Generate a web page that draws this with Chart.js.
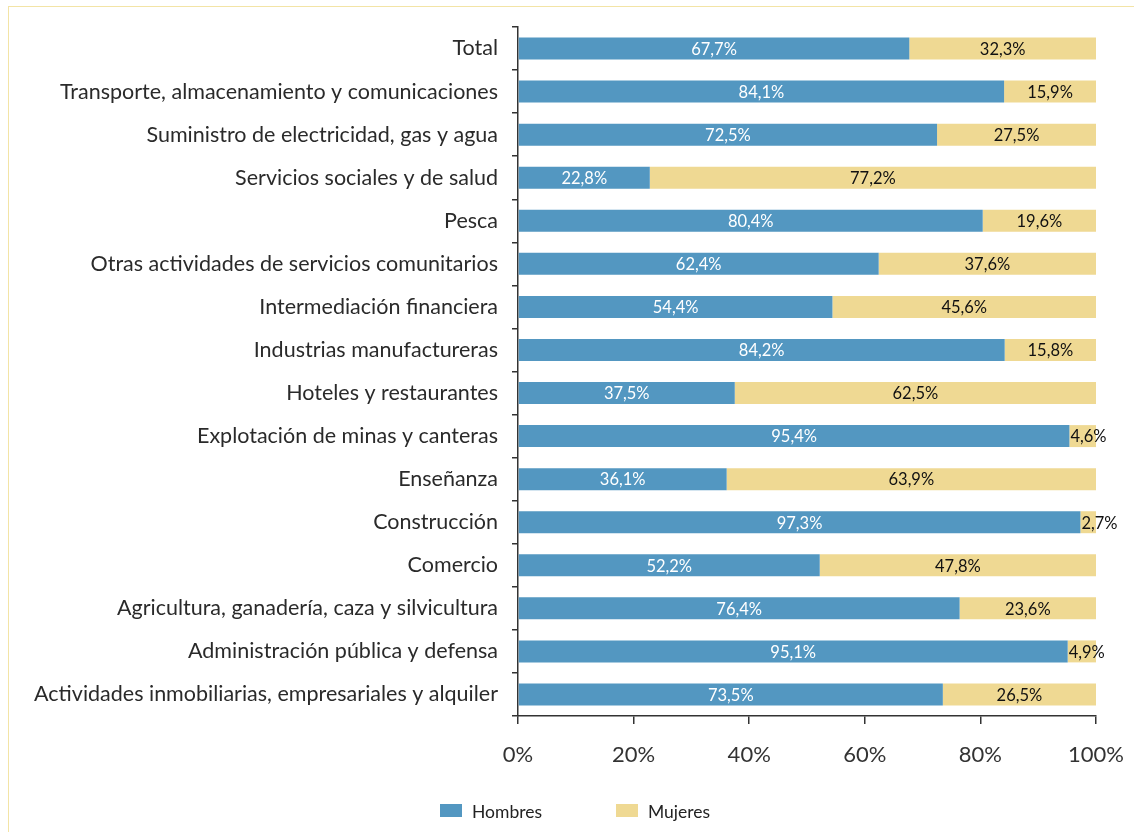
<!DOCTYPE html>
<html>
<head>
<meta charset="utf-8">
<script src="https://cdn.jsdelivr.net/npm/chart.js@4"></script>
<style>
  body { margin: 0; background: #fff; }
  #marco { position: absolute; left: 8px; top: 6px; width: 1200px; height: 900px; border-left: 1.5px solid #f3e4a6; border-top: 1.5px solid #f3e4a6; }
  #caja { position: absolute; left: 0; top: 0; width: 1134px; height: 832px; }
</style>
</head>
<body>
<div id="marco"></div>
<div id="caja"><canvas id="myBarChart"></canvas></div>
<script>
// categorías (de arriba hacia abajo)
var categorias = [
  'Total',
  'Transporte, almacenamiento y comunicaciones',
  'Suministro de electricidad, gas y agua',
  'Servicios sociales y de salud',
  'Pesca',
  'Otras actividades de servicios comunitarios',
  'Intermediación financiera',
  'Industrias manufactureras',
  'Hoteles y restaurantes',
  'Explotación de minas y canteras',
  'Enseñanza',
  'Construcción',
  'Comercio',
  'Agricultura, ganadería, caza y silvicultura',
  'Administración pública y defensa',
  'Actividades inmobiliarias, empresariales y alquiler'
];
var hombres = [67.7, 84.1, 72.5, 22.8, 80.4, 62.4, 54.4, 84.2, 37.5, 95.4, 36.1, 97.3, 52.2, 76.4, 95.1, 73.5];
var mujeres = [32.3, 15.9, 27.5, 77.2, 19.6, 37.6, 45.6, 15.8, 62.5, 4.6, 63.9, 2.7, 47.8, 23.6, 4.9, 26.5];
var ticksX = [0, 20, 40, 60, 80, 100];

var azul = '#5397c1';
var amarillo = '#efd993';
var fuente = 'Lato, "Open Sans", sans-serif';

//etiquetas de valores dentro de las barras
var etiquetas = {
  id: 'etiquetas',
  afterDatasetsDraw: function(chart) {
    var ctx = chart.ctx;
    ctx.save();
    ctx.font = '16.5px ' + fuente;
    ctx.textBaseline = 'middle';
    chart.data.datasets.forEach(function(ds, i) {
      var meta = chart.getDatasetMeta(i);
      meta.data.forEach(function(bar, j) {
        var txt = ds.data[j].toFixed(1).replace('.', ',') + '%';
        var w = ctx.measureText(txt).width;
        var izq = Math.min(bar.base, bar.x);
        var ancho = Math.abs(bar.x - bar.base);
        ctx.fillStyle = i == 0 ? '#ffffff' : '#111111';
        if (w + 4 > ancho) {
          ctx.textAlign = 'left';
          ctx.fillText(txt, izq + 1, bar.y + 1);
        } else {
          ctx.textAlign = 'center';
          ctx.fillText(txt, izq + ancho / 2, bar.y + 1);
        }
      });
    });
    ctx.restore();
  }
};

//leyenda abajo
var leyenda = {
  id: 'leyenda',
  afterDraw: function(chart) {
    var ctx = chart.ctx;
    var pos = [440, 616];
    ctx.save();
    ctx.font = '17.5px ' + fuente;
    ctx.textBaseline = 'middle';
    ctx.textAlign = 'left';
    chart.data.datasets.forEach(function(ds, i) {
      ctx.fillStyle = ds.backgroundColor;
      ctx.fillRect(pos[i], 804, 22, 13);
      ctx.fillStyle = '#222';
      ctx.fillText(ds.label, pos[i] + 32, 812);
    });
    ctx.restore();
  }
};

var ctx = document.getElementById('myBarChart');
var myBarChart = new Chart(ctx, {
  type: 'bar',
  data: {
    labels: categorias,
    datasets: [
      { label: 'Hombres', data: hombres, backgroundColor: azul, barPercentage: 0.51, categoryPercentage: 1 },
      { label: 'Mujeres', data: mujeres, backgroundColor: amarillo, barPercentage: 0.51, categoryPercentage: 1 }
    ]
  },
  options: {
    indexAxis: 'y',
    responsive: true,
    maintainAspectRatio: false,
    animation: false,
    layout: { padding: { top: 27, right: 38, left: 0, bottom: 0 } },
    plugins: {
      legend: { display: false },
      tooltip: { enabled: false }
    },
    scales: {
      x: {
        stacked: true,
        min: 0,
        max: 100,
        afterFit: function(s) { s.height = 116; s.paddingRight = 0; s.paddingLeft = 0; },
        afterBuildTicks: function(s) { s.ticks = ticksX.map(function(v) { return { value: v }; }); },
        grid: { drawOnChartArea: false, tickLength: 8, color: '#333', lineWidth: 1.5 },
        border: { color: '#333', width: 1.5 },
        ticks: {
          padding: 18,
          color: '#333',
          font: { size: 22, family: fuente },
          callback: function(v) { return v + '%'; }
        }
      },
      y: {
        stacked: true,
        afterFit: function(s) { s.width = 518; },
        grid: { drawOnChartArea: false, tickLength: 6, color: '#333', lineWidth: 1.5, offset: true },
        border: { color: '#333', width: 1.5 },
        ticks: {
          padding: 14,
          color: '#2a2a2a',
          font: { size: 21.5, family: fuente }
        }
      }
    }
  },
  plugins: [etiquetas, leyenda]
});
</script>
</body>
</html>
